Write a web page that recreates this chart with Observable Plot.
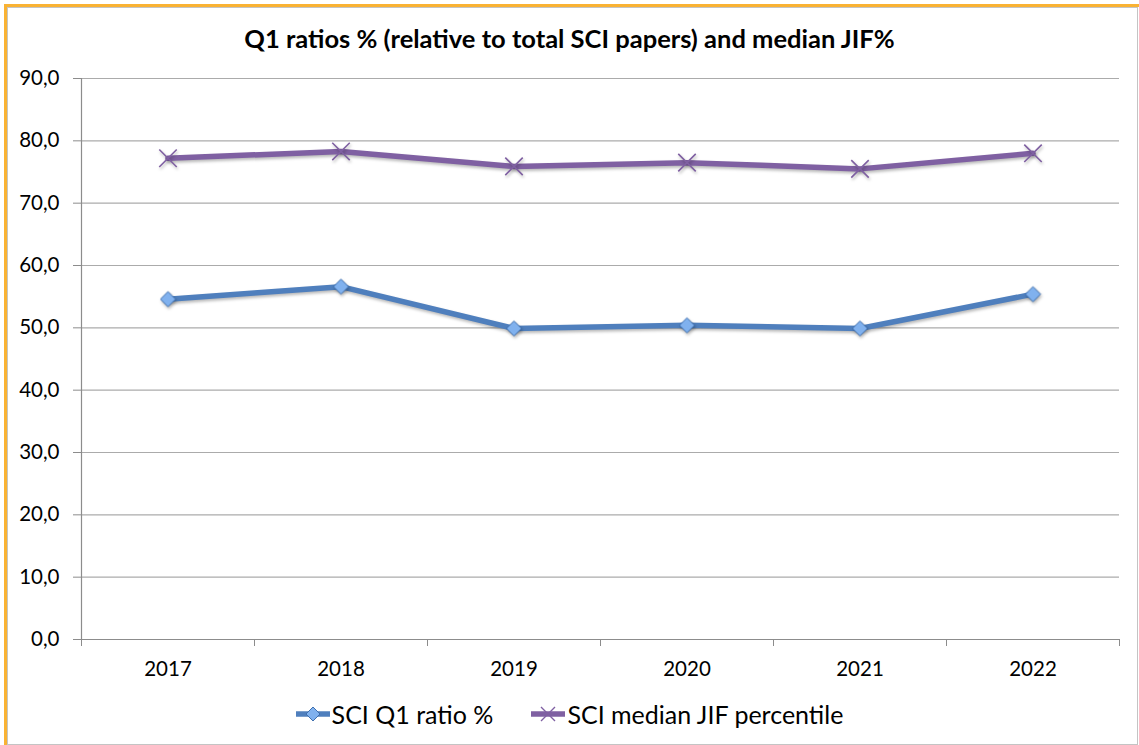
<!DOCTYPE html>
<html>
<head>
<meta charset="utf-8">
<script src="https://cdn.jsdelivr.net/npm/d3@7"></script>
<script src="https://cdn.jsdelivr.net/npm/@observablehq/plot@0.6"></script>
<style>
  body { margin: 0; background: #fff; font-family: Lato, "Open Sans", sans-serif; }
  #page { position: relative; width: 1139px; height: 745px; overflow: hidden; background: #fff; }
  #sel { position: absolute; left: 4px; top: 4px; width: 1300px; height: 900px;
         border-left: 3px solid #f9b233; border-top: 3px solid #f9b233; }
  #frame { position: absolute; left: 7px; top: 7px; width: 1129px; height: 736px;
           border: 1px solid #c4c4c4; background: #fff; }
  #title { position: absolute; left: 0; top: 23px; width: 1139px; text-align: center;
           font-weight: bold; font-size: 25.5px; color: #000; }
  #chart { position: absolute; left: 0; top: 0; }
  #legend { position: absolute; left: 0; top: 699px; width: 1139px; display: flex;
            justify-content: center; align-items: center; gap: 38px; font-size: 25px; color: #000; }
  .item { display: flex; align-items: center; gap: 2px; }
  .item svg { display: block; }
</style>
</head>
<body>
<div id="page">
  <div id="sel"></div>
  <div id="frame"></div>
  <div id="chart"></div>
  <div id="title">Q1 ratios % (relative to total SCI papers) and median JIF%</div>
  <div id="legend"></div>
</div>
<script>
// Yearly values
const years = [2017, 2018, 2019, 2020, 2021, 2022];
const q1Ratio = [54.6, 56.6, 49.9, 50.4, 49.9, 55.4];
const medianJif = [77.2, 78.3, 75.9, 76.5, 75.5, 78.0];
const yTicks = [0, 10, 20, 30, 40, 50, 60, 70, 80, 90];

const seriesNames = ["SCI Q1 ratio %", "SCI median JIF percentile"];
const blue = "#4f7fbd", purple = "#7f60a2";

const q1Data = years.map((year, i) => ({year, value: q1Ratio[i]}));
const jifData = years.map((year, i) => ({year, value: medianJif[i]}));
const bounds = years.map(y => y - 0.5).concat([years[years.length - 1] + 0.5]);
const fmt = d => d.toFixed(1).replace(".", ",");

const chart = Plot.plot({
  width: 1139,
  height: 690,
  marginLeft: 81,
  marginRight: 20,
  marginTop: 78,
  marginBottom: 51,
  style: { background: "transparent", fontFamily: "Lato, 'Open Sans', sans-serif", fontSize: "20px", color: "#000" },
  x: { domain: [bounds[0], bounds[bounds.length - 1]] },
  y: { domain: [0, 90] },
  marks: [
    Plot.ruleY(yTicks.filter(d => d > 0), { stroke: "#ababab", strokeWidth: 1.2 }),
    Plot.ruleY([0], { stroke: "#8c8c8c", strokeWidth: 1.2 }),
    Plot.ruleX([bounds[0]], { stroke: "#8c8c8c", strokeWidth: 1.2 }),
    Plot.axisY({ ticks: yTicks, tickFormat: fmt, tickSize: 8, tickPadding: 14, stroke: "#8c8c8c", fontSize: 20.5, label: null }),
    Plot.axisX({ ticks: bounds, tickFormat: () => "", tickSize: 7, stroke: "#8c8c8c", label: null }),
    Plot.axisX({ ticks: years, tickFormat: d => String(d), tickSize: 0, tickPadding: 22, fontSize: 20.5, label: null }),
    Plot.line(jifData, { x: "year", y: "value", stroke: purple, strokeWidth: 5.5 }),
    Plot.dot(jifData, { x: "year", y: "value", symbol: "times", r: 8, stroke: purple, strokeWidth: 1.6 }),
    Plot.line(q1Data, { x: "year", y: "value", stroke: blue, strokeWidth: 5.5 }),
    Plot.dot(q1Data, { x: "year", y: "value", symbol: "diamond2", r: 6.8, fill: "#80b1ee", stroke: "#3e6fae", strokeWidth: 1 })
  ]
});

d3.select(chart).selectAll("g[aria-label='line'], g[aria-label='dot']")
  .style("filter", "drop-shadow(1px 2px 1.5px rgba(0,0,0,0.28))");
document.getElementById("chart").appendChild(chart);

// Legend with line-and-marker swatches
const legend = d3.select("#legend");
seriesNames.forEach((name, i) => {
  const item = legend.append("div").attr("class", "item");
  const sw = item.append("svg").attr("width", 34).attr("height", 20);
  sw.append("line").attr("x1", 0).attr("x2", 34).attr("y1", 10).attr("y2", 10)
    .attr("stroke", i === 0 ? blue : purple).attr("stroke-width", 5.5);
  if (i === 0) {
    sw.append("path").attr("d", "M17,3L24,10L17,17L10,10Z")
      .attr("fill", "#80b1ee").attr("stroke", "#3e6fae").attr("stroke-width", 1);
  } else {
    sw.append("path").attr("d", "M10,3L24,17M24,3L10,17")
      .attr("stroke", purple).attr("stroke-width", 1.4);
  }
  item.append("span").text(name);
});
</script>
</body>
</html>
